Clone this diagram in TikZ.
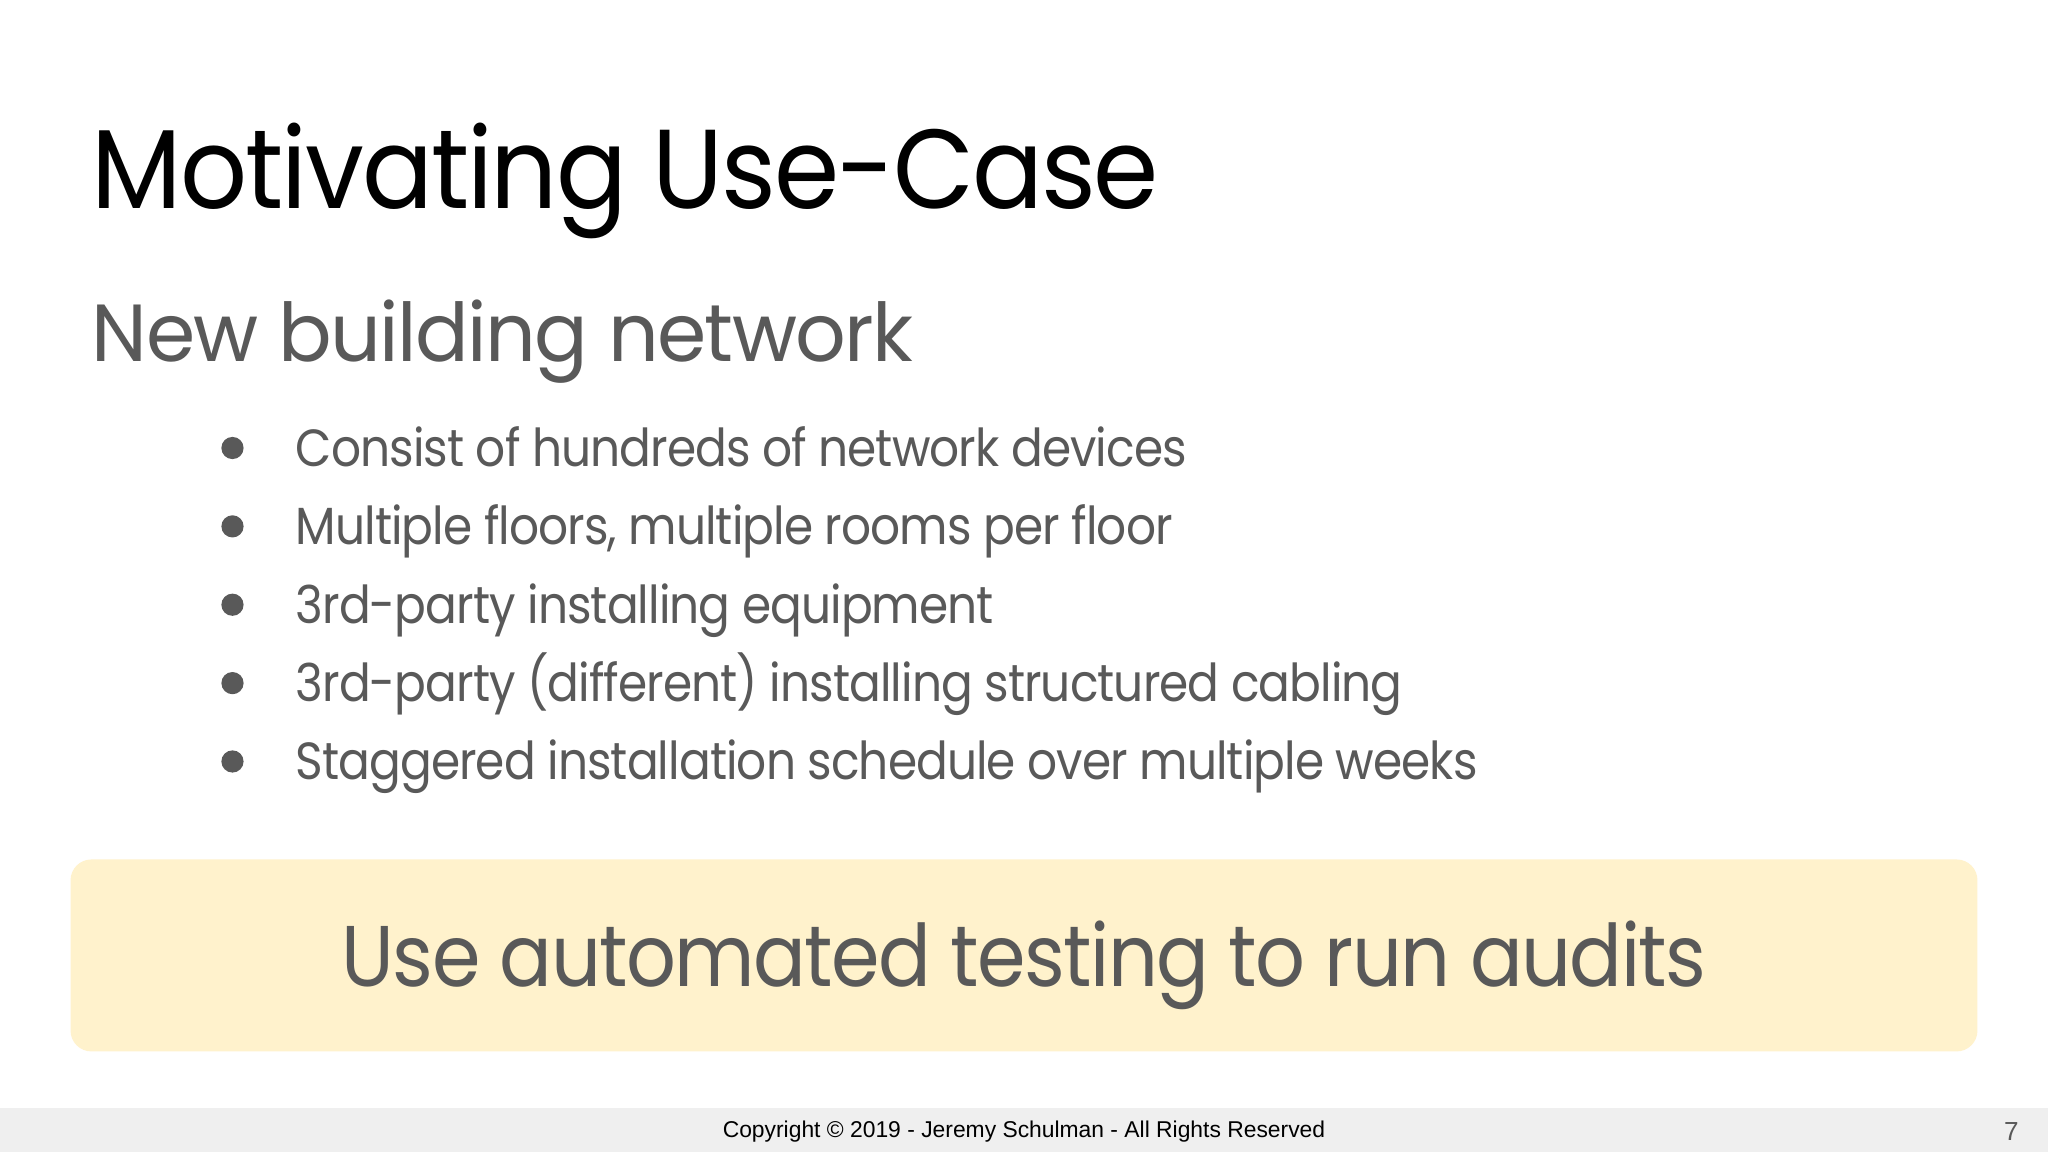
\documentclass[tikz,border=0pt]{standalone}
\usepackage{fontspec}
\setmainfont{Poppins}
\newfontfamily\footfont{Liberation Sans}
\definecolor{txtgray}{HTML}{595959}
\definecolor{boxyellow}{HTML}{FFF2CC}
\definecolor{footgray}{HTML}{EFEFEF}
\begin{document}
\begin{tikzpicture}[x=0.5pt,y=-0.5pt,
  bodytext/.style={anchor=base west,inner sep=0,text=txtgray,font=\fontsize{20}{24}\selectfont},
  bulletdot/.style={circle,fill=txtgray,inner sep=0,minimum size=8.5pt}]
\useasboundingbox (0,0) rectangle (1568,882);
\fill[white] (0,0) rectangle (1568,882);
\node[anchor=base west,inner sep=0,font=\fontsize{43}{50}\selectfont\addfontfeature{LetterSpace=-2}] (title) at (70,160) {\scalebox{0.935}[1]{Motivating Use-Case}};
\node[anchor=base west,inner sep=0,text=txtgray,font=\fontsize{31}{36}\selectfont\addfontfeature{LetterSpace=-2}] (sub) at (70,277) {\scalebox{0.98}[1]{New building network}};
\foreach \t [count=\i] in {Consist of hundreds of network devices,{Multiple floors, multiple rooms per floor},3rd-party installing equipment,3rd-party (different) installing structured cabling,Staggered installation schedule over multiple weeks}{
  \node[bulletdot] (b\i) at (178,{283+60*\i}) {};
  \node[bodytext] (t\i) at (226,{297+60*\i}) {\addfontfeature{LetterSpace=-2}\scalebox{0.9}[1]{\t}};
}
\node[draw=none,fill=boxyellow,rounded corners=8pt,minimum width=730pt,minimum height=73.5pt,inner sep=0] (box) at (784,731.5) {};
\node[anchor=base,inner sep=0,text=txtgray,font=\fontsize{33}{38}\selectfont\addfontfeature{LetterSpace=-2}] (boxtext) at (784,755) {\scalebox{0.906}[1]{Use automated testing to run audits}};
\fill[footgray] (0,848) rectangle (1568,882);
\node[inner sep=0,font=\footfont\fontsize{8.75}{10}\selectfont] (copy) at (784,866) {Copyright © 2019 - Jeremy Schulman - All Rights Reserved};
\node[inner sep=0,text=txtgray,font=\footfont\fontsize{10}{12}\selectfont] (pg) at (1540,866) {7};
\end{tikzpicture}
\end{document}
